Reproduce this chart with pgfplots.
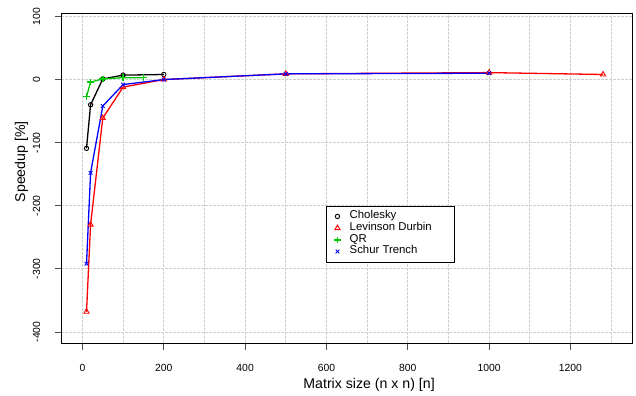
\documentclass[border=0pt]{standalone}
\usepackage{fontspec}
\setmainfont{Liberation Sans}
\usepackage{pgfplots}
\pgfplotsset{compat=1.18}
\definecolor{rred}{RGB}{255,0,0}
\definecolor{qrgreen}{RGB}{0,200,0}
\definecolor{rblue}{RGB}{0,0,255}
\definecolor{gridgray}{RGB}{208,208,208}
\begin{document}
\begin{tikzpicture}
\path[use as bounding box] (0,0) rectangle (636bp,396bp);
\begin{axis}[
  at={(61.3bp,52.7bp)}, anchor=south west,
  scale only axis, width=571bp, height=330bp,
  xmin=-52, xmax=1352, ymin=-418, ymax=105,
  xtick={0,200,...,1200},
  minor xtick={100,300,...,1300},
  ytick={-400,-300,...,100},
  grid=both,
  major grid style={gridgray, line width=0.8bp, dash pattern=on 3bp off 1bp},
  minor grid style={gridgray, line width=0.8bp, dash pattern=on 3bp off 1bp},
  tick align=outside,
  major tick length=6.5bp, minor tick length=0pt,
  tick style={black!70, line width=0.8bp},
  xtick pos=bottom, ytick pos=left,
  axis line style={black, line width=0.9bp},
  /pgf/number format/assume math mode=true,
  /pgf/number format/1000 sep={},
  xticklabel style={font=\fontsize{10.4}{12}\selectfont, anchor=base, yshift=-21.7bp},
  yticklabel style={font=\fontsize{10.4}{12}\selectfont, xshift=-14.6bp, rotate=90, anchor=base},
  xlabel={Matrix size (n x n) [n]},
  ylabel={Speedup [\%]},
  every axis x label/.style={at={(rel axis cs:0.539,0)}, yshift=-45bp, anchor=base, font=\fontsize{14.2}{16}\selectfont},
  every axis y label/.style={at={(rel axis cs:0,0.5503)}, xshift=-36.3bp, rotate=90, anchor=base, font=\fontsize{14.2}{16}\selectfont},
  legend style={at={(axis cs:600,-200)}, anchor=north west, draw=black, line width=0.7bp, fill=white,
    inner xsep=0pt, inner ysep=4.5bp, row sep=0pt, column sep=0pt,
    nodes={inner sep=0pt, text height=8.3bp, text depth=3.4bp, font=\fontsize{11.4}{13}\selectfont}},
  legend cell align=left,
  legend image code/.code={\path (0bp,0bp) (21.6bp,0bp); \draw[#1, only marks] plot coordinates {(10bp,0bp)};},
  every axis plot/.append style={line width=1.3bp},
]
\addplot[black, mark=o, mark size=2.2bp, mark options={draw=black, solid, line width=0.9bp}] coordinates {
(10,-109) (20,-40) (50,1) (100,7) (200,8)};
\addlegendentry{\makebox[104.4bp][l]{Cholesky}}
\addplot[rred, mark=triangle, mark size=3bp, mark options={draw=rred, solid, line width=0.9bp}] coordinates {
(10,-368) (20,-230) (50,-61) (100,-12) (200,0) (500,9) (1000,11) (1280,8)};
\addlegendentry{\makebox[104.4bp][l]{Levinson Durbin}}
\addplot[qrgreen, mark=+, mark size=3.3bp, mark options={draw=qrgreen, solid, line width=1.5bp}] coordinates {
(10,-27) (20,-4) (50,1) (100,3) (150,3)};
\addlegendentry{\makebox[104.4bp][l]{QR}}
\addplot[rblue, mark=x, mark size=2.6bp, mark options={draw=rblue, solid, line width=0.9bp}] coordinates {
(10,-292) (20,-148) (50,-42) (100,-8) (200,0) (500,9) (1000,10)};
\addlegendentry{\makebox[104.4bp][l]{Schur Trench}}
\end{axis}
\end{tikzpicture}
\end{document}
